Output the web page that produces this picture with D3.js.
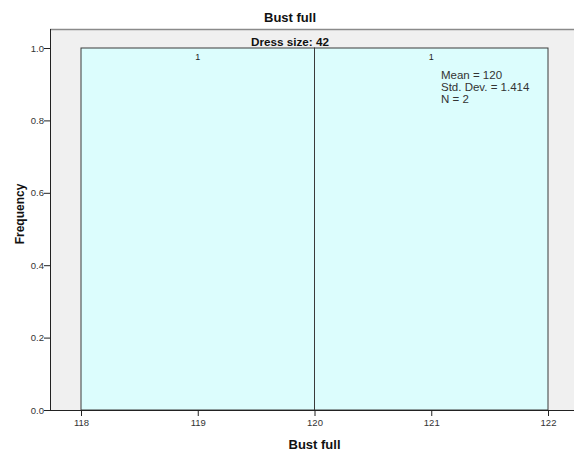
<!DOCTYPE html>
<html>
<head>
<meta charset="utf-8">
<script src="https://cdn.jsdelivr.net/npm/d3@7"></script>
<style>
  body { margin: 0; background: #fff; }
  svg { display: block; font-family: "Liberation Sans", Arial, sans-serif; }
</style>
</head>
<body>
<div id="chart"></div>
<script>
// Histogram bins: [lower, upper] edges and counts
const binStarts = [118, 120];
const binEnds = [120, 122];
const counts = [1, 1];
const xTicks = [118, 119, 120, 121, 122];
const yTicks = [0.0, 0.2, 0.4, 0.6, 0.8, 1.0];
const statLines = ["Mean = 120", "Std. Dev. = 1.414", "N = 2"];
const panelTitle = "Dress size: 42";

const W = 574, H = 458;
const svg = d3.select("#chart").append("svg").attr("width", W).attr("height", H);

const frame = { left: 50, top: 29, right: 574, bottom: 410 };
const x = d3.scaleLinear().domain([118, 122]).range([81, 548]);
const y = d3.scaleLinear().domain([0, 1]).range([410, 48]);

// Plot frame background
svg.append("rect")
  .attr("x", frame.left).attr("y", frame.top)
  .attr("width", frame.right - frame.left).attr("height", frame.bottom - frame.top)
  .attr("fill", "#f0f0f0");
svg.append("line")
  .attr("x1", frame.left).attr("x2", frame.right)
  .attr("y1", frame.top + 0.5).attr("y2", frame.top + 0.5)
  .attr("stroke", "#8a8a8a").attr("stroke-width", 1.5);

// Bars
const bins = binStarts.map((s, i) => ({ x0: s, x1: binEnds[i], n: counts[i] }));
svg.append("g").selectAll("rect").data(bins).join("rect")
  .attr("x", d => x(d.x0))
  .attr("y", d => y(d.n))
  .attr("width", d => x(d.x1) - x(d.x0))
  .attr("height", d => y(0) - y(d.n))
  .attr("fill", "#dcfdfd")
  .attr("stroke", "#3a3a3a")
  .attr("stroke-width", 1);

// Count labels above each bar
svg.append("g").selectAll("text").data(bins).join("text")
  .attr("x", d => x((d.x0 + d.x1) / 2))
  .attr("y", d => y(d.n) + 12)
  .attr("text-anchor", "middle")
  .attr("font-size", 9)
  .attr("fill", "#222")
  .text(d => d.n);

// Axes
const yAxis = d3.axisLeft(y).tickValues(yTicks).tickFormat(d3.format(".1f")).tickSize(6).tickSizeOuter(0);
const gy = svg.append("g").attr("transform", `translate(${frame.left},0)`).call(yAxis);
gy.select(".domain").attr("d", `M0.5,${frame.top}V${frame.bottom}`).attr("stroke", "#222");
gy.selectAll(".tick line").attr("stroke", "#222");
gy.selectAll(".tick text").attr("font-size", 9.5).attr("fill", "#333")
  .attr("font-family", "Liberation Sans, Arial, sans-serif").attr("x", -6);

const xAxis = d3.axisBottom(x).tickValues(xTicks).tickFormat(d3.format("d")).tickSize(6).tickSizeOuter(0);
const gx = svg.append("g").attr("transform", `translate(0,${frame.bottom})`).call(xAxis);
gx.select(".domain").attr("d", `M${frame.left},0.5H${frame.right}`).attr("stroke", "#222");
gx.selectAll(".tick line").attr("stroke", "#222");
gx.selectAll(".tick text").attr("font-size", 9.5).attr("fill", "#333")
  .attr("font-family", "Liberation Sans, Arial, sans-serif").attr("y", 9);

// Titles
svg.append("text").attr("x", 290).attr("y", 22).attr("text-anchor", "middle")
  .attr("font-size", 13).attr("font-weight", "bold").attr("fill", "#111").text("Bust full");
svg.append("text").attr("x", 251).attr("y", 46)
  .attr("font-size", 11).attr("font-weight", "bold").attr("fill", "#111")
  .attr("textLength", 78).attr("lengthAdjust", "spacingAndGlyphs")
  .text(panelTitle);
svg.append("text").attr("x", x(120)).attr("y", 449).attr("text-anchor", "middle")
  .attr("font-size", 13).attr("font-weight", "bold").attr("fill", "#111").text("Bust full");
svg.append("text").attr("transform", "translate(24,214) rotate(-90)").attr("text-anchor", "middle")
  .attr("font-size", 12).attr("font-weight", "bold").attr("fill", "#111").text("Frequency");

// Summary statistics
svg.append("g").selectAll("text").data(statLines).join("text")
  .attr("x", 441)
  .attr("y", (d, i) => 79 + i * 12)
  .attr("font-size", 11.5)
  .attr("fill", "#333")
  .text(d => d);
</script>
</body>
</html>
